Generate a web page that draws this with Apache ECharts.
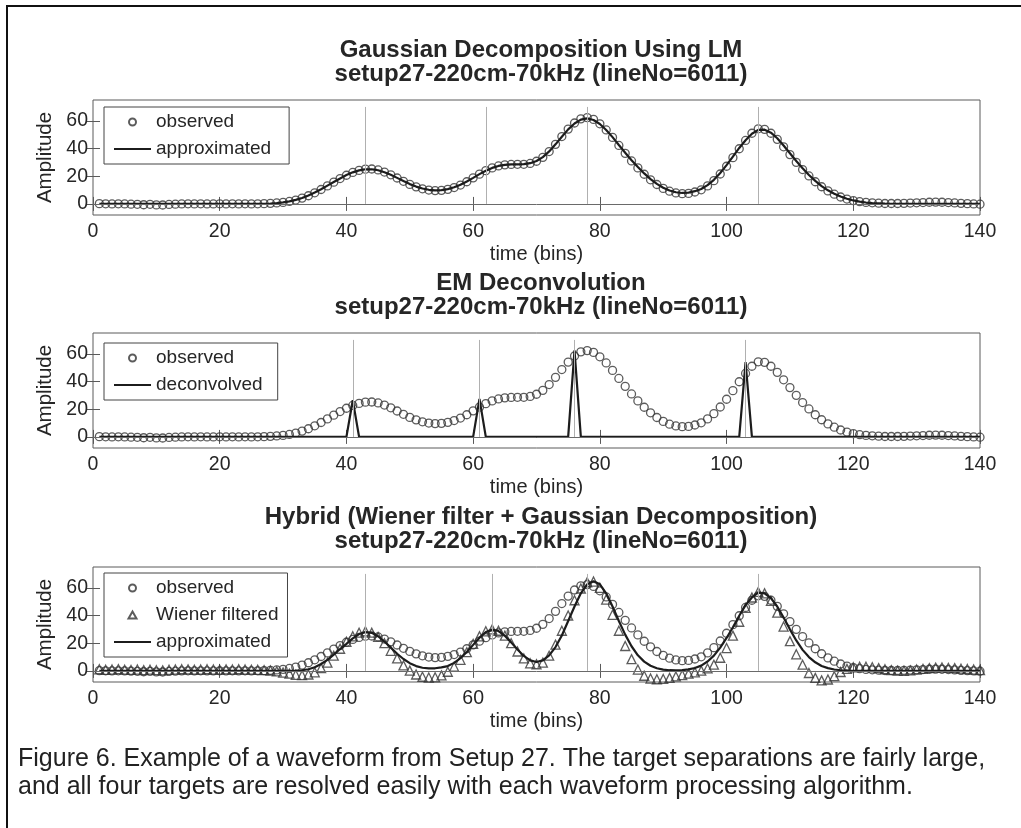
<!DOCTYPE html>
<html><head><meta charset="utf-8">
<script src="https://cdn.jsdelivr.net/npm/echarts@6/dist/echarts.min.js"></script>
<style>html,body{margin:0;padding:0;background:#fff}#c{width:1021px;height:828px}</style>
</head><body><div id="c"></div>
<script>
// ---------- data ----------
const xTicks = [0, 20, 40, 60, 80, 100, 120, 140];
const yTicks = [0, 20, 40, 60];

const observed = [
 0.2,0.1,0.0,0.1,0.0,-0.2,-0.3,-0.6,-0.3,-0.7,
 -0.8,-0.4,-0.2,0.0,0.1,0.0,0.1,0.0,0.0,0.1,
 0.0,0.1,0.0,0.1,0.0,0.1,0.2,0.4,0.7,1.1,
 1.8,2.8,4.2,5.9,8.0,10.4,13.0,15.7,18.3,20.7,
 22.7,24.2,25.1,25.2,24.5,23.0,21.0,18.7,16.3,14.1,
 12.3,10.9,10.0,9.6,9.8,10.5,11.8,13.6,16.0,18.8,
 21.5,24.0,26.0,27.4,28.2,28.5,28.6,28.6,29.2,30.8,
 33.6,37.8,43.0,48.6,54.0,58.4,61.4,62.3,61.0,57.8,
 53.4,48.0,42.2,36.5,31.0,26.0,21.4,17.4,14.0,11.2,
 9.2,7.9,7.4,7.6,8.6,10.2,13.0,16.8,21.6,27.2,
 33.4,39.8,45.8,51.0,54.2,53.8,51.0,46.6,41.2,35.6,
 30.0,24.8,20.2,16.0,12.4,9.4,7.0,5.0,3.5,2.4,
 1.6,1.1,0.8,0.5,0.3,0.3,0.3,0.4,0.6,0.8,
 1.0,1.2,1.3,1.2,1.0,0.7,0.4,0.2,0.0,-0.2
];

const approxLM = [
 0,0,0,0,0,0,0,0,0,0,
 0,0,0,0,0,0,0,0,0,0,
 0,0,0,0,0,0,0.1,0.3,0.6,1.1,
 1.8,2.9,4.3,6.1,8.2,10.6,13.2,15.8,18.4,20.8,
 22.8,24.2,25.0,25.0,24.3,22.9,21.0,18.8,16.5,14.3,
 12.5,11.1,10.2,9.8,10.0,10.7,12.0,13.9,16.2,18.8,
 21.5,24.0,26.0,27.4,28.2,28.5,28.5,28.7,29.4,31.0,
 33.8,37.9,43.0,48.5,53.8,58.0,60.8,61.7,60.6,57.7,
 53.4,48.2,42.5,36.9,31.5,26.6,22.0,17.9,14.5,11.7,
 9.7,8.4,7.9,8.2,9.2,10.8,13.6,17.4,22.3,28.0,
 34.2,40.4,46.0,50.6,53.4,53.6,51.4,47.4,42.2,36.6,
 31.0,25.7,20.9,16.6,12.9,9.8,7.3,5.3,3.7,2.5,
 1.6,1.0,0.6,0.4,0.2,0.1,0.1,0.1,0.1,0.1,
 0.1,0.1,0.1,0.1,0.1,0.1,0.1,0.1,0.1,0.1
];

const emSpikeBins = [41, 61, 76, 103];
const emSpikeHeights = [26.5, 27.5, 62.5, 54.0];

const wiener = [
 1.2,0.8,1.0,1.3,0.9,0.7,1.0,0.6,0.9,0.5,
 0.4,0.8,1.0,1.2,1.1,0.9,1.0,1.2,1.0,0.9,
 1.1,1.0,1.2,1.0,0.9,0.8,0.6,0.3,-0.3,-1.2,
 -2.0,-2.8,-3.1,-2.6,-1.0,2.0,6.0,11.0,16.0,21.0,
 25.0,27.6,28.6,27.6,24.5,20.0,14.5,9.0,4.0,0.2,
 -2.6,-4.2,-4.8,-4.6,-3.2,-0.6,3.0,8.0,13.5,19.5,
 25.0,28.6,30.0,29.0,25.5,20.0,14.0,9.0,5.5,4.8,
 6.0,11.0,19.0,29.0,40.0,51.0,59.5,64.0,64.5,60.0,
 51.5,40.5,29.0,18.0,8.5,1.0,-3.5,-5.5,-6.0,-5.8,
 -5.0,-4.0,-3.0,-2.0,-1.0,0.2,1.8,4.5,9.5,16.5,
 25.5,35.5,45.5,53.0,57.0,56.0,50.5,42.0,32.0,21.5,
 12.0,4.5,-1.5,-5.0,-6.8,-6.2,-3.8,-0.8,1.5,2.6,
 3.0,3.0,2.6,2.0,1.2,0.6,0.2,0.1,0.4,1.0,
 1.5,2.0,2.4,2.5,2.2,2.0,1.6,1.4,1.0,0.6
];

const approxHybrid = [
 0,0,0,0,0,0,0,0,0,0,
 0,0,0,0,0,0,0,0,0,0,
 0,0,0,0,0,0,0,0,0,0,
 0.1,0.2,0.5,1.2,2.6,5.0,8.0,11.8,15.8,19.5,
 23.5,26.6,28.0,27.5,25.0,21.2,16.8,12.4,8.6,5.6,
 3.5,2.3,1.8,1.9,2.6,3.5,5.8,9.2,13.6,18.8,
 24.0,28.0,29.8,28.8,25.4,20.6,15.4,10.8,7.6,6.4,
 7.6,11.2,17.2,25.6,36.0,46.5,56.0,62.5,64.8,62.5,
 56.0,46.5,36.0,26.2,17.8,11.3,6.7,3.7,1.9,0.9,
 0.5,0.4,0.6,1.1,2.1,3.8,6.8,11.0,16.8,23.8,
 31.5,39.8,47.5,53.0,56.5,56.0,52.5,46.5,38.5,30.0,
 22.0,15.2,10.0,6.2,3.6,2.0,1.0,0.5,0.2,0.1,
 0,0,0,0,0,0,0,0,0,0,
 0,0,0,0,0,0,0,0,0,0
];

const lmStemBins = [43, 62, 78, 105];
const emStemBins = [41, 61, 76, 103];
const hybridStemBins = [43, 63, 78, 105];
const stemTop = 70;

const titles = [
  'Gaussian Decomposition Using LM\nsetup27-220cm-70kHz (lineNo=6011)',
  'EM Deconvolution\nsetup27-220cm-70kHz (lineNo=6011)',
  'Hybrid (Wiener filter + Gaussian Decomposition)\nsetup27-220cm-70kHz (lineNo=6011)'
];
const captionLines = [
  'Figure 6. Example of a waveform from Setup 27. The target separations are fairly large,',
  'and all four targets are resolved easily with each waveform processing algorithm.'
];

// ---------- build ----------
const bins = observed.map((_, i) => i + 1);
const pairs = arr => arr.map((v, i) => [bins[i], v]);
const deconvolved = bins.map(b => {
  const k = emSpikeBins.indexOf(b);
  return k >= 0 ? emSpikeHeights[k] : 0;
});

const FONT = '"Liberation Sans", Arial, Helvetica, sans-serif';
const TXT = '#262626';
const AX = '#5a5a5a';
const MK = '#333333';

const gridTops = [100, 333, 567];
const grids = gridTops.map(t => ({
  left: 93, right: 41, top: t, height: 115,
  show: true, borderColor: AX, borderWidth: 1, backgroundColor: 'transparent'
}));

const xAxes = [], yAxes = [];
gridTops.forEach((t, i) => {
  xAxes.push({
    gridIndex: i, type: 'value', min: xTicks[0], max: xTicks[xTicks.length - 1], interval: 20, position: 'bottom',
    axisLine: { show: false },
    axisTick: { inside: true, length: 7, lineStyle: { color: AX } },
    axisLabel: { margin: 7, fontSize: 19.5, color: TXT, fontFamily: FONT },
    splitLine: { show: false },
    name: 'time (bins)', nameLocation: 'middle', nameGap: 29,
    nameTextStyle: { fontSize: 20, color: TXT, fontFamily: FONT }
  });
  xAxes.push({
    gridIndex: i, type: 'value', min: xTicks[0], max: xTicks[xTicks.length - 1], interval: 20, position: 'top',
    axisLine: { show: false },
    axisTick: { inside: true, length: 7, lineStyle: { color: AX } },
    axisLabel: { show: false }, splitLine: { show: false }
  });
  yAxes.push({
    gridIndex: i, type: 'value', min: -8, max: 75, position: 'left',
    axisLine: { show: false },
    axisTick: { inside: true, length: 7, customValues: yTicks, lineStyle: { color: AX } },
    axisLabel: { customValues: yTicks, margin: 5, fontSize: 19.5, color: TXT, fontFamily: FONT },
    splitLine: { show: false },
    name: 'Amplitude', nameLocation: 'middle', nameGap: 35, nameRotate: 90,
    nameTextStyle: { fontSize: 20.5, color: TXT, fontFamily: FONT }
  });
  yAxes.push({
    gridIndex: i, type: 'value', min: -8, max: 75, position: 'right',
    axisLine: { show: false },
    axisTick: { inside: true, length: 7, customValues: yTicks, lineStyle: { color: AX } },
    axisLabel: { show: false }, splitLine: { show: false }
  });
});

function stemSeries(i, stems) {
  return {
    type: 'line', xAxisIndex: 2 * i, yAxisIndex: 2 * i, data: [], z: 1, silent: true,
    markLine: {
      silent: true, symbol: ['none', 'none'], label: { show: false }, animation: false,
      data: [
        { yAxis: 0, lineStyle: { color: '#6a6a6a', width: 1, type: 'solid' } },
        ...stems.map(b => [
          { coord: [b, 0], lineStyle: { color: '#b0b0b0', width: 1, type: 'solid' } },
          { coord: [b, stemTop] }
        ])
      ]
    }
  };
}
function scatter(i, name, arr, symbol, size) {
  return {
    type: 'scatter', name, xAxisIndex: 2 * i, yAxisIndex: 2 * i, data: pairs(arr),
    symbol, symbolSize: size, z: 2, silent: true,
    itemStyle: { color: 'rgba(0,0,0,0)', borderColor: MK, borderWidth: 1.3 }
  };
}
function line(i, name, arr) {
  return {
    type: 'line', name, xAxisIndex: 2 * i, yAxisIndex: 2 * i, data: pairs(arr),
    symbol: 'none', z: 3, silent: true,
    itemStyle: { color: 'rgba(0,0,0,0)' },
    lineStyle: { color: '#1c1c1c', width: 2.2 }
  };
}

const series = [
  stemSeries(0, lmStemBins),
  scatter(0, 'observed', observed, 'circle', 8),
  line(0, 'approximated', approxLM),
  stemSeries(1, emStemBins),
  scatter(1, 'observed', observed, 'circle', 8),
  line(1, 'deconvolved', deconvolved),
  stemSeries(2, hybridStemBins),
  scatter(2, 'observed', observed, 'circle', 8),
  scatter(2, 'Wiener filtered', wiener, 'triangle', 9),
  line(2, 'approximated', approxHybrid)
];

function legend(top, names, padRight) {
  return {
    orient: 'vertical', left: 104, top, selectedMode: false,
    data: names.map(n => n === 'Wiener filtered'
      ? { name: n, icon: 'path://M4,0 L8,7 L0,7 Z' }
      : { name: n }),
    itemWidth: 37, itemHeight: 7, itemGap: 7,
    padding: [5, padRight, 5, 9],
    backgroundColor: '#fff', borderColor: '#444', borderWidth: 1, borderRadius: 0,
    textStyle: { fontSize: 19, color: TXT, fontFamily: FONT, lineHeight: 20 }
  };
}

const option = {
  animation: false,
  backgroundColor: '#fff',
  title: titles.map((t, i) => ({
    text: t, left: 536, top: gridTops[i] - 67, textAlign: 'center',
    textStyle: { fontSize: 24, fontWeight: 'bold', color: TXT, lineHeight: 24, fontFamily: FONT }
  })),
  legend: [
    legend(107, ['observed', 'approximated'], 18),
    legend(343, ['observed', 'deconvolved'], 15),
    legend(573, ['observed', 'Wiener filtered', 'approximated'], 9)
  ],
  grid: grids, xAxis: xAxes, yAxis: yAxes, series,
  graphic: [
    { type: 'line', silent: true, shape: { x1: 6, y1: 6, x2: 1021, y2: 6 }, style: { stroke: '#111', lineWidth: 2 } },
    { type: 'line', silent: true, shape: { x1: 7, y1: 5, x2: 7, y2: 828 }, style: { stroke: '#111', lineWidth: 2 } },
    { type: 'text', silent: true, left: 18, top: 747, style: { text: captionLines[0], font: '25px ' + FONT, fill: '#222' } },
    { type: 'text', silent: true, left: 18, top: 775, style: { text: captionLines[1], font: '25px ' + FONT, fill: '#222' } }
  ]
};
echarts.init(document.getElementById('c')).setOption(option);
</script>
</body></html>
